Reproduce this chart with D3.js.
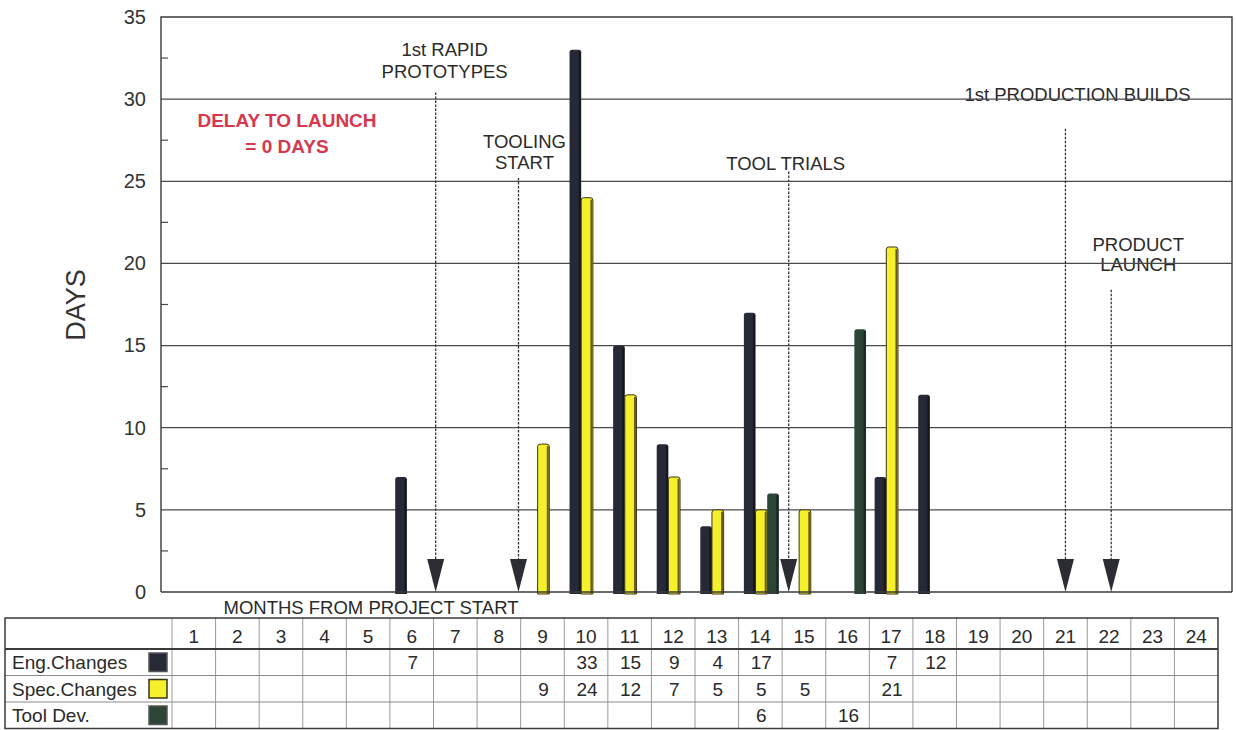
<!DOCTYPE html>
<html>
<head>
<meta charset="utf-8">
<script src="https://cdn.jsdelivr.net/npm/d3@7"></script>
<style>
  body { margin: 0; background: #fff; }
  svg { display: block; font-family: "Liberation Sans", Arial, sans-serif; }
</style>
</head>
<body>
<svg id="chart" width="1236" height="730"></svg>
<script>
// ---- data ----
const months = d3.range(1, 25);
const engChanges  = [null, null, null, null, null, 7, null, null, null, 33, 15, 9, 4, 17, null, null, 7, 12, null, null, null, null, null, null];
const specChanges = [null, null, null, null, null, null, null, null, 9, 24, 12, 7, 5, 5, 5, null, 21, null, null, null, null, null, null, null];
const toolDev     = [null, null, null, null, null, null, null, null, null, null, null, null, null, 6, null, 16, null, null, null, null, null, null, null, null];
const seriesNames = ["Eng.Changes", "Spec.Changes", "Tool Dev."];
const yTicks = [0, 5, 10, 15, 20, 25, 30, 35];
const yMinorTicks = [2.5, 7.5, 12.5, 17.5, 22.5, 27.5, 32.5];
const milestoneLabels = [["1st RAPID", "PROTOTYPES"], ["TOOLING", "START"], ["TOOL TRIALS"], ["1st PRODUCTION BUILDS"], ["PRODUCT", "LAUNCH"]];
const milestoneMonths = [6.55, 8.45, 14.65, 21, 22.05];
const milestoneFrom = [30.4, 25.2, 25.6, 28.2, 18.4];   // day level where each guide starts
const delayNote = ["DELAY TO LAUNCH", "= 0 DAYS"];
const axisTitle = "DAYS";
const tableTitle = "MONTHS FROM PROJECT START";

// ---- layout ----
const svg = d3.select("#chart");
const plot = { left: 161, right: 1232, top: 17, bottom: 592 };
const table = { left: 5, right: 1218, top: 618, header: 649, rowH: 26.5 };

const x = d3.scaleBand().domain(months).range([172, 1218]).padding(0);
const xSub = d3.scaleBand().domain(["eng", "spec", "tool"]).range([-16.5, 18.5]);
const y = d3.scaleLinear().domain([0, 35]).range([plot.bottom, plot.top]);
const center = m => x(m) + x.bandwidth() / 2;
const xMonth = m => center(1) + (m - 1) * x.step();

const series = [
  { key: "eng",  name: seriesNames[0], values: engChanges,  fill: "#272a36", edge: "#15161d", stroke: "none" },
  { key: "spec", name: seriesNames[1], values: specChanges, fill: "#f4f02c", edge: "#6e5c14", stroke: "#3b3318" },
  { key: "tool", name: seriesNames[2], values: toolDev,     fill: "#2d4536", edge: "#18261d", stroke: "none" }
];

const ink = "#2a2a2a";

// ---- milestone labels (drawn under the grid) ----
const labelLayout = [
  { dx: 9,  ys: [56, 78] },
  { dx: 6,  ys: [148, 169] },
  { dx: -3, ys: [170] },
  { dx: 12, ys: [101] },
  { dx: 27, ys: [251, 271] }
];
milestoneLabels.forEach((lines, i) => {
  const cx = xMonth(milestoneMonths[i]) + labelLayout[i].dx;
  lines.forEach((t, j) => {
    svg.append("text")
      .attr("x", cx).attr("y", labelLayout[i].ys[j])
      .attr("text-anchor", "middle")
      .attr("font-size", 18.5)
      .attr("fill", ink)
      .text(t);
  });
});

// ---- grid ----
const grid = svg.append("g");
grid.selectAll("line.h").data(yTicks.filter(d => d > 0 && d < 35)).join("line")
  .attr("x1", plot.left).attr("x2", plot.right)
  .attr("y1", d => y(d)).attr("y2", d => y(d))
  .attr("stroke", "#4a4a4a").attr("stroke-width", 1.2);
grid.selectAll("line.m").data(yMinorTicks).join("line")
  .attr("x1", plot.left).attr("x2", plot.left + 7)
  .attr("y1", d => y(d)).attr("y2", d => y(d))
  .attr("stroke", "#4a4a4a").attr("stroke-width", 1.2);
// frame
svg.append("path")
  .attr("d", `M${plot.left},${plot.bottom}V${plot.top}H${plot.right}V${plot.bottom}`)
  .attr("fill", "none").attr("stroke", "#3a3a3a").attr("stroke-width", 1.4);

// ---- y axis ----
const yAxis = svg.append("g")
  .attr("transform", `translate(${plot.left},0)`)
  .call(d3.axisLeft(y).tickValues(yTicks).tickSize(0).tickPadding(15));
yAxis.select(".domain").remove();
yAxis.selectAll("text").attr("font-size", 20).attr("fill", "#333")
  .attr("font-family", "'Liberation Sans', Arial, sans-serif");

svg.append("text")
  .attr("transform", `translate(85,305) rotate(-90)`)
  .attr("text-anchor", "middle")
  .attr("font-size", 27)
  .attr("fill", "#333")
  .text(axisTitle);

// ---- bars ----
function barPath(x0, w, yTop, yBot) {
  const r = Math.min(2.5, w / 2);
  return `M${x0},${yBot}V${yTop + r}Q${x0},${yTop} ${x0 + r},${yTop}H${x0 + w - r}Q${x0 + w},${yTop} ${x0 + w},${yTop + r}V${yBot}Z`;
}
series.forEach(s => {
  const pts = months.map((m, i) => ({ m, v: s.values[i] })).filter(d => d.v != null);
  const g = svg.append("g");
  g.selectAll("path.bar").data(pts).join("path")
    .attr("d", d => barPath(center(d.m) + xSub(s.key), xSub.bandwidth(), y(d.v), y(0) + 2))
    .attr("fill", s.fill)
    .attr("stroke", s.stroke).attr("stroke-width", 1);
  // darker right-hand edge for depth
  g.selectAll("rect.edge").data(pts).join("rect")
    .attr("x", d => center(d.m) + xSub(s.key) + xSub.bandwidth() - 2.5)
    .attr("y", d => y(d.v) + 2)
    .attr("width", 2).attr("height", d => y(0) - y(d.v))
    .attr("fill", s.edge);
});

// baseline over bars
svg.append("line")
  .attr("x1", plot.left).attr("x2", plot.right)
  .attr("y1", plot.bottom).attr("y2", plot.bottom)
  .attr("stroke", "#3a3a3a").attr("stroke-width", 1.6);

// ---- milestone arrows ----
milestoneMonths.forEach((m, i) => {
  const cx = xMonth(m);
  svg.append("line")
    .attr("x1", cx).attr("x2", cx)
    .attr("y1", y(milestoneFrom[i])).attr("y2", y(0) - 30)
    .attr("stroke", "#333").attr("stroke-width", 1.3)
    .attr("stroke-dasharray", "2.5,1.5");
  svg.append("path")
    .attr("d", `M${cx - 8.5},${y(0) - 33}H${cx + 8.5}L${cx},${y(0)}Z`)
    .attr("fill", "#2c2d33");
});

// ---- delay note ----
delayNote.forEach((t, j) => {
  svg.append("text")
    .attr("x", 287).attr("y", 127 + j * 26)
    .attr("text-anchor", "middle")
    .attr("font-size", 19).attr("font-weight", "bold")
    .attr("fill", "#d8384e")
    .text(t);
});

// ---- data table ----
svg.append("text")
  .attr("x", 371).attr("y", 614)
  .attr("text-anchor", "middle")
  .attr("font-size", 18.5).attr("fill", ink)
  .text(tableTitle);

const tg = svg.append("g");
const rowTop = i => table.header + i * table.rowH;
// inner vertical dividers
tg.selectAll("line.v").data(months.slice(1)).join("line")
  .attr("x1", d => x(d)).attr("x2", d => x(d))
  .attr("y1", table.top).attr("y2", rowTop(3))
  .attr("stroke", "#9a9a9a").attr("stroke-width", 1);
tg.append("line")
  .attr("x1", x(1)).attr("x2", x(1)).attr("y1", table.top).attr("y2", rowTop(3))
  .attr("stroke", "#9a9a9a").attr("stroke-width", 1);
// row separators
[1, 2].forEach(i => {
  tg.append("line")
    .attr("x1", table.left).attr("x2", table.right)
    .attr("y1", rowTop(i)).attr("y2", rowTop(i))
    .attr("stroke", "#8a8a8a").attr("stroke-width", 1);
});
tg.append("line")
  .attr("x1", table.left).attr("x2", table.right)
  .attr("y1", table.header).attr("y2", table.header)
  .attr("stroke", "#3a3a3a").attr("stroke-width", 1.8);
tg.append("rect")
  .attr("x", table.left).attr("y", table.top)
  .attr("width", table.right - table.left).attr("height", rowTop(3) - table.top)
  .attr("fill", "none").attr("stroke", "#3a3a3a").attr("stroke-width", 1.5);

// header month numbers
tg.selectAll("text.mh").data(months).join("text")
  .attr("x", d => center(d)).attr("y", table.header - 6)
  .attr("text-anchor", "middle")
  .attr("font-size", 19).attr("fill", ink)
  .text(d => d);

// series rows
series.forEach((s, i) => {
  const top = rowTop(i);
  tg.append("text")
    .attr("x", 12).attr("y", top + 20)
    .attr("font-size", 19).attr("fill", ink)
    .text(s.name);
  tg.append("rect")
    .attr("x", 149).attr("y", top + 4)
    .attr("width", 18).attr("height", table.rowH - 8)
    .attr("fill", s.fill)
    .attr("stroke", s.key === "spec" ? "#3b3318" : "#555").attr("stroke-width", 1.5);
  const pts = months.map((m, k) => ({ m, v: s.values[k] })).filter(d => d.v != null);
  tg.selectAll(`text.v-${s.key}`).data(pts).join("text")
    .attr("x", d => center(d.m) + 1).attr("y", top + 20)
    .attr("text-anchor", "middle")
    .attr("font-size", 19).attr("fill", ink)
    .text(d => d.v);
});
</script>
</body>
</html>
